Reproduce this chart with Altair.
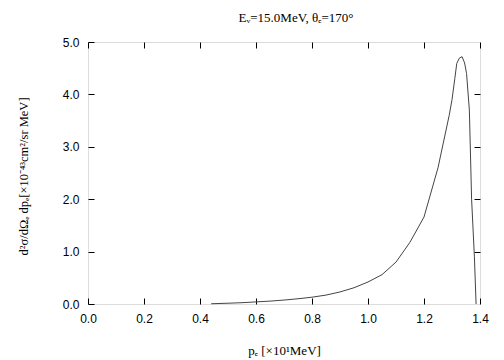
import altair as alt
import pandas as pd

p_e = [0.44, 0.5, 0.55, 0.6, 0.65, 0.7, 0.75, 0.8, 0.85, 0.9, 0.95, 1.0, 1.05, 1.1,
       1.15, 1.2, 1.25, 1.29, 1.3, 1.31, 1.317, 1.326, 1.336, 1.345, 1.352, 1.362,
       1.37, 1.38, 1.386]
xsec = [0.005, 0.015, 0.025, 0.04, 0.055, 0.075, 0.1, 0.13, 0.17, 0.23, 0.31, 0.42,
        0.56, 0.8, 1.18, 1.66, 2.6, 3.6, 3.9, 4.3, 4.59, 4.69, 4.72, 4.6, 4.4, 3.7,
        2.0, 0.9, 0.0]

x_ticks = [0.0, 0.2, 0.4, 0.6, 0.8, 1.0, 1.2, 1.4]
y_ticks = [0.0, 1.0, 2.0, 3.0, 4.0, 5.0]

df = pd.DataFrame({"p": p_e, "s": xsec})

W, H = 392, 262
TS = 6

xscale = alt.Scale(domain=[0, 1.4], nice=False, zero=False)
yscale = alt.Scale(domain=[0, 5.0], nice=False)

sans = "Liberation Sans"
serif = "Liberation Serif"

x_bottom = alt.X("p:Q", scale=xscale, axis=alt.Axis(
    orient="bottom", values=x_ticks, format=".1f", offset=-TS, tickSize=TS,
    domain=False, grid=False, labelPadding=9, labelFont=sans, labelFontSize=12,
    labelColor="black", tickColor="black", labelFlush=False,
    title="pₑ [×10¹MeV]", titleFont=serif, titleFontSize=13, titleFontWeight="normal",
    titleColor="black", titlePadding=20))
y_left = alt.Y("s:Q", scale=yscale, axis=alt.Axis(
    orient="left", values=y_ticks, format=".1f", offset=-TS, tickSize=TS,
    domain=False, grid=False, labelPadding=9, labelFont=sans, labelFontSize=12,
    labelColor="black", tickColor="black", labelFlush=False,
    title="d²σ/dΩₑ dpₑ[×10⁻⁴³cm²/sr MeV]", titleFont=serif, titleFontSize=12.5,
    titleFontWeight="normal", titleColor="black", titlePadding=32, titleY=134))

line = alt.Chart(df).mark_line(color="#444444", strokeWidth=1).encode(
    x=x_bottom, y=y_left)

mirror = alt.Chart(df).mark_line(opacity=0).encode(
    x=alt.X("p:Q", scale=xscale, axis=alt.Axis(
        orient="top", values=x_ticks, offset=-TS, tickSize=TS, domain=False,
        grid=False, labels=False, title=None, tickColor="black")),
    y=alt.Y("s:Q", scale=yscale, axis=alt.Axis(
        orient="right", values=y_ticks[1:-1], offset=-TS, tickSize=TS, domain=False,
        grid=False, labels=False, title=None, tickColor="black")),
)

chart = alt.layer(line, mirror).resolve_axis(x="independent", y="independent").properties(
    width=W, height=H,
    autosize=alt.AutoSizeParams(type="none"),
    padding={"left": 80, "top": 34, "right": 16, "bottom": 60},
    title=alt.TitleParams(
        "Eᵥ=15.0MeV, θₑ=170°", font=serif, fontSize=13, fontWeight="normal",
        color="black", anchor="middle", offset=11, dx=12),
).configure_view(stroke="black", strokeWidth=1.5).configure(background="white")

chart.save("out.html", embed_options={"renderer": "svg", "actions": False})
